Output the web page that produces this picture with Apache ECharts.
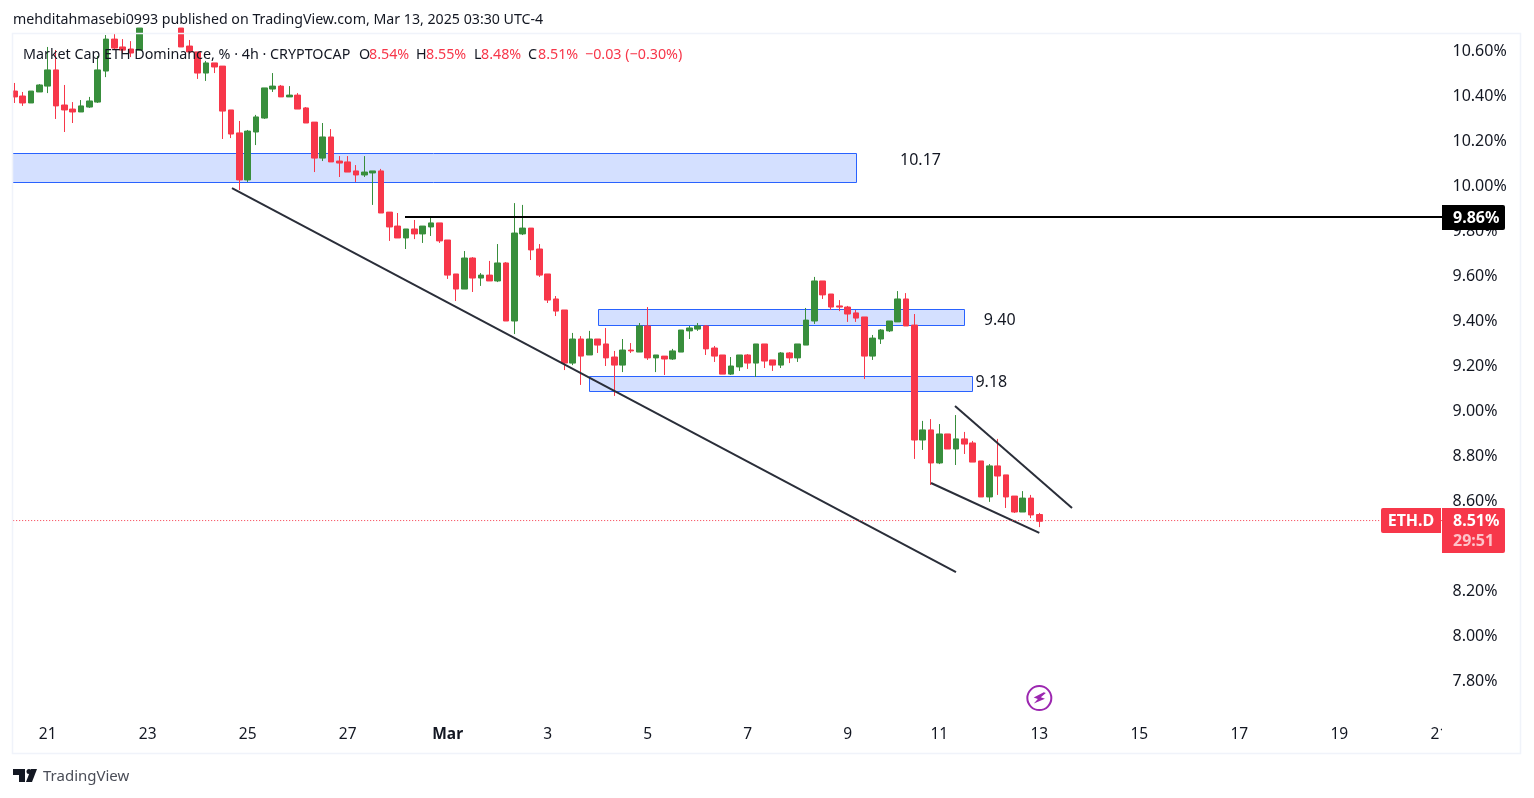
<!DOCTYPE html>
<html>
<head>
<meta charset="utf-8">
<title>ETH.D</title>
<script src="https://cdn.jsdelivr.net/npm/echarts@6/dist/echarts.min.js"></script>
<style>
  html, body { margin: 0; padding: 0; background: #fff; }
  #chart { width: 1534px; height: 798px; }
</style>
</head>
<body>
<div id="chart"></div>
<script>
const opens = [
  10.422,10.400,10.369,10.418,10.444,10.516,10.360,10.342,10.329,10.351,10.373,10.511,10.653,10.618,10.609,10.604,
  10.702,10.780,10.800,10.780,10.702,10.622,10.596,10.502,10.547,10.533,10.338,10.236,10.027,10.240,10.302,10.431,
  10.444,10.396,10.404,10.347,10.284,10.124,10.218,10.111,10.107,10.067,10.049,10.058,10.067,9.884,9.822,9.769,
  9.809,9.787,9.818,9.836,9.760,9.609,9.542,9.680,9.591,9.604,9.578,9.658,9.400,9.787,9.813,9.720,
  9.609,9.498,9.449,9.213,9.320,9.249,9.320,9.298,9.240,9.204,9.271,9.262,9.378,9.236,9.244,9.231,
  9.262,9.356,9.364,9.378,9.280,9.249,9.164,9.196,9.249,9.213,9.298,9.227,9.204,9.258,9.236,9.293,
  9.400,9.578,9.520,9.467,9.462,9.436,9.418,9.244,9.320,9.356,9.396,9.498,9.382,8.871,8.916,8.769,
  8.898,8.831,8.876,8.858,8.778,8.618,8.756,8.716,8.622,8.551,8.613,8.540
]
const highs = [
  10.458,10.418,10.422,10.453,10.618,10.604,10.449,10.373,10.382,10.396,10.578,10.671,10.676,10.653,10.644,10.702,
  10.790,10.830,10.840,10.800,10.702,10.649,10.596,10.556,10.547,10.533,10.338,10.289,10.249,10.316,10.436,10.502,
  10.449,10.444,10.413,10.351,10.284,10.280,10.253,10.133,10.133,10.093,10.133,10.067,10.076,9.884,9.880,9.809,
  9.849,9.822,9.862,9.836,9.760,9.609,9.711,9.684,9.613,9.667,9.742,9.662,9.924,9.916,9.813,9.742,
  9.609,9.511,9.449,9.347,9.333,9.356,9.320,9.369,9.267,9.320,9.302,9.391,9.462,9.249,9.244,9.276,
  9.360,9.378,9.391,9.382,9.289,9.249,9.240,9.249,9.253,9.298,9.298,9.227,9.262,9.262,9.298,9.458,
  9.596,9.578,9.520,9.493,9.467,9.449,9.418,9.338,9.364,9.400,9.533,9.524,9.431,8.956,8.964,8.942,
  8.898,8.982,8.907,8.867,8.778,8.764,8.876,8.716,8.622,8.644,8.627,8.547
]
const lows = [
  10.369,10.356,10.369,10.418,10.413,10.298,10.240,10.280,10.329,10.347,10.369,10.484,10.609,10.587,10.573,10.604,
  10.690,10.750,10.770,10.700,10.618,10.596,10.476,10.467,10.502,10.209,10.213,9.982,10.018,10.182,10.298,10.418,
  10.396,10.396,10.342,10.280,10.062,10.111,10.107,10.040,10.062,10.018,10.040,9.916,9.880,9.756,9.769,9.720,
  9.764,9.747,9.778,9.747,9.587,9.489,9.542,9.529,9.556,9.578,9.573,9.400,9.342,9.782,9.671,9.596,
  9.480,9.422,9.182,9.204,9.116,9.249,9.258,9.200,9.067,9.173,9.258,9.262,9.227,9.173,9.160,9.227,
  9.262,9.320,9.356,9.249,9.218,9.164,9.160,9.178,9.187,9.151,9.191,9.178,9.191,9.213,9.218,9.293,
  9.387,9.498,9.449,9.444,9.396,9.396,9.142,9.227,9.298,9.351,9.396,9.378,8.787,8.827,8.671,8.764,
  8.831,8.760,8.809,8.773,8.618,8.596,8.627,8.569,8.547,8.551,8.524,8.484
]
const closes = [
  10.396,10.369,10.422,10.449,10.516,10.356,10.338,10.329,10.356,10.378,10.516,10.653,10.613,10.604,10.591,10.702,
  10.780,10.800,10.780,10.720,10.618,10.596,10.502,10.547,10.529,10.333,10.231,10.027,10.244,10.307,10.436,10.444,
  10.396,10.404,10.342,10.280,10.124,10.218,10.107,10.102,10.062,10.049,10.062,10.067,9.880,9.818,9.769,9.809,
  9.787,9.822,9.836,9.756,9.604,9.542,9.680,9.591,9.604,9.578,9.658,9.400,9.791,9.813,9.716,9.604,
  9.493,9.444,9.213,9.320,9.244,9.320,9.293,9.236,9.204,9.271,9.267,9.378,9.236,9.249,9.231,9.267,
  9.360,9.369,9.378,9.276,9.244,9.164,9.200,9.249,9.213,9.298,9.222,9.204,9.258,9.236,9.298,9.404,
  9.578,9.516,9.462,9.462,9.431,9.413,9.244,9.324,9.360,9.400,9.498,9.378,8.871,8.916,8.769,8.898,
  8.831,8.876,8.853,8.773,8.618,8.756,8.711,8.618,8.551,8.613,8.538,8.510
]

// day labels and the bar they sit under (the 9 to 11 gap is one bar short)
const dayLabels = ['21','23','25','27','Mar','3','5','7','9','11','13','15','17','19','21']
const dayBars = [4,16,28,40,52,64,76,88,100,111,123,135,147,159,171]
const barSlots = 172

const priceTicks = { min: 7.6, max: 10.6756, step: 0.2 }

// blue zones: [startBar, endBar, top, bottom]
const zoneStarts = [-0.5, 70.08, 68.96]
const zoneEnds = [101.0, 114.0, 114.98]
const zoneTops = [10.147, 9.452, 9.156]
const zoneBottoms = [10.016, 9.381, 9.089]

const zoneNotes = ['10.17', '9.40', '9.18']
const zoneNoteBars = [108.8, 118.3, 117.3]
const zoneNotePrices = [10.113, 9.402, 9.126]

// trend lines as [bar, price]
const lowerTrend = [[26.12, 9.991], [113.0, 8.284]]
const wedgeLow = [[110.0, 8.680], [123.0, 8.458]]
const wedgeHigh = [[112.88, 9.022], [126.92, 8.569]]
const levelStartBar = 46.88
const levelPrice = 9.862
const lastPrice = 8.513
const lastPriceLabel = '8.51%'
const countdown = '29:51'
const eventMarker = [[123, 7.724]]

const RED = '#f7374a'
const GREEN = '#388e3c'
const INK = '#131722'
const FONT = '"Noto Sans", sans-serif'

const legendBits = [
  { x: 23, text: 'Market Cap ETH Dominance, % · 4h · CRYPTOCAP', fill: INK },
  { x: 359, text: 'O', fill: INK }, { x: 369, text: '8.54%', fill: RED },
  { x: 416, text: 'H', fill: INK }, { x: 426, text: '8.55%', fill: RED },
  { x: 474, text: 'L', fill: INK }, { x: 481, text: '8.48%', fill: RED },
  { x: 528, text: 'C', fill: INK }, { x: 538, text: '8.51%', fill: RED },
  { x: 585, text: '−0.03 (−0.30%)', fill: RED }
]

const categories = Array.from({ length: barSlots }, (_, i) => {
  const at = dayBars.indexOf(i)
  return at < 0 ? '' : dayLabels[at]
})

const chart = echarts.init(document.getElementById('chart'))

function renderZone(params, api) {
  const a = api.coord([api.value(0), api.value(2)])
  const b = api.coord([api.value(1), api.value(3)])
  const x = Math.round(a[0]) + 0.5
  const y = Math.round(a[1]) + 0.5
  return {
    type: 'rect',
    shape: { x, y, width: Math.round(b[0] - a[0]), height: Math.round(b[1] - a[1]) },
    style: { fill: 'rgba(41,98,255,0.2)', stroke: '#2962ff', lineWidth: 1 }
  }
}

function tagText(x, y, text, fill, weight, align) {
  return {
    type: 'text',
    style: { x, y, text, fill, font: `${weight} 16px ${FONT}`, align: align || 'left', verticalAlign: 'middle' }
  }
}

function renderTags(params, api) {
  const levelY = api.coord([0, levelPrice])[1]
  const lastY = api.coord([0, lastPrice])[1]
  return {
    type: 'group',
    children: [
      { type: 'rect', shape: { x: 1442, y: levelY - 12, width: 63, height: 25, r: [0, 2, 2, 0] }, style: { fill: '#000' } },
      tagText(1453, levelY + 1.5, levelPrice.toFixed(2) + '%', '#fff', 'bold'),
      { type: 'rect', shape: { x: 1381, y: lastY - 12.5, width: 60, height: 25, r: [2, 0, 0, 2] }, style: { fill: RED } },
      tagText(1411, lastY + 1, 'ETH.D', '#fff', 'bold', 'center'),
      { type: 'rect', shape: { x: 1442, y: lastY - 12.5, width: 63, height: 45, r: [0, 2, 2, 0] }, style: { fill: RED } },
      tagText(1453, lastY + 1, lastPriceLabel, '#fff', 'bold'),
      tagText(1453, lastY + 21, countdown, '#fdc3c9', 'bold')
    ]
  }
}

function trendSeries(data, color, width, type) {
  return {
    type: 'line',
    xAxisIndex: 1,
    data,
    symbol: 'none',
    silent: true,
    z: 5,
    lineStyle: { color, width, type: type || 'solid' }
  }
}

chart.setOption({
  animation: false,
  backgroundColor: '#fff',
  grid: { left: 10.17, top: 34, width: 1433.33, height: 692 },
  xAxis: [
    {
      type: 'category',
      data: categories,
      axisLine: { show: false },
      axisTick: { show: false },
      splitLine: { show: false },
      axisLabel: {
        interval: 0,
        margin: 1,
        fontSize: 15.5,
        fontFamily: FONT,
        color: INK,
        formatter: v => v === 'Mar' ? '{b|Mar}' : v,
        rich: { b: { fontWeight: 'bold', fontSize: 15.5, fontFamily: FONT, color: INK } }
      }
    },
    { type: 'value', show: false, min: -0.5, max: barSlots - 0.5, splitLine: { show: false } }
  ],
  yAxis: {
    type: 'value',
    position: 'right',
    min: priceTicks.min,
    max: priceTicks.max,
    interval: priceTicks.step,
    axisLine: { show: false },
    axisTick: { show: false },
    splitLine: { show: false },
    axisLabel: {
      margin: 9,
      padding: [2, 0, 0, 0],
      fontSize: 16,
      fontFamily: FONT,
      color: INK,
      showMinLabel: false,
      showMaxLabel: false,
      formatter: v => v.toFixed(2) + '%'
    }
  },
  series: [
    {
      type: 'custom',
      xAxisIndex: 1,
      z: 1,
      silent: true,
      encode: { x: [0, 1], y: [2, 3] },
      data: zoneStarts.map((s, i) => [s, zoneEnds[i], zoneTops[i], zoneBottoms[i]]),
      renderItem: renderZone
    },
    {
      type: 'candlestick',
      z: 3,
      barWidth: 6,
      data: opens.map((o, i) => [o, closes[i], lows[i], highs[i]]),
      itemStyle: { color: GREEN, color0: RED, borderColor: GREEN, borderColor0: RED, borderWidth: 1 }
    },
    trendSeries(lowerTrend, '#2a2e39', 2),
    trendSeries(wedgeLow, '#2a2e39', 2),
    trendSeries(wedgeHigh, '#2a2e39', 2),
    trendSeries([[levelStartBar, levelPrice], [barSlots - 0.5, levelPrice]], '#000', 2),
    trendSeries([[-0.5, lastPrice], [barSlots - 0.5, lastPrice]], RED, 1, [1, 2]),
    {
      type: 'scatter',
      xAxisIndex: 1,
      silent: true,
      z: 5,
      symbolSize: 1,
      itemStyle: { color: 'transparent', opacity: 1 },
      data: zoneNotes.map((n, i) => ({ name: n, value: [zoneNoteBars[i], zoneNotePrices[i]] })),
      label: {
        show: true,
        position: [0, 0],
        align: 'center',
        verticalAlign: 'middle',
        formatter: '{b}',
        fontSize: 16,
        fontFamily: FONT,
        color: INK
      }
    },
    {
      type: 'scatter',
      xAxisIndex: 1,
      silent: true,
      z: 5,
      symbol: 'circle',
      symbolSize: 24,
      itemStyle: { color: '#fff', borderColor: '#9c27b0', borderWidth: 2, opacity: 1 },
      data: eventMarker
    },
    {
      type: 'scatter',
      xAxisIndex: 1,
      silent: true,
      z: 6,
      symbol: 'path://M9 0 L2 9 L6 9 L4 15 L12 6 L8 6 L11 0 Z',
      symbolSize: [11, 14],
      symbolRotate: -20,
      itemStyle: { color: '#9c27b0', opacity: 1 },
      data: eventMarker
    },
    {
      type: 'custom',
      xAxisIndex: 1,
      z: 10,
      silent: true,
      data: [[0, lastPrice]],
      renderItem: renderTags
    }
  ],
  graphic: [
    { type: 'rect', z: 50, silent: true, shape: { x: 0, y: 30, width: 12.5, height: 730 }, style: { fill: '#fff' } },
    { type: 'rect', z: 50, silent: true, shape: { x: 1442, y: 726, width: 10, height: 22 }, style: { fill: '#fff' } },
    { type: 'rect', z: 51, silent: true, shape: { x: 12.5, y: 33.5, width: 1508, height: 720 }, style: { fill: 'none', stroke: '#f0f3fa', lineWidth: 1.5 } },
    {
      type: 'text', z: 52, silent: true, x: 13, y: 20,
      style: { text: 'mehditahmasebi0993 published on TradingView.com, Mar 13, 2025 03:30 UTC-4', fill: INK, font: `14.2px ${FONT}`, verticalAlign: 'middle' }
    },
    ...legendBits.map(b => ({
      type: 'text', z: 52, silent: true, x: b.x, y: 55,
      style: { text: b.text, fill: b.fill, font: `14.3px ${FONT}`, verticalAlign: 'middle' }
    })),
    { type: 'polygon', z: 52, silent: true, shape: { points: [[13, 769], [25, 769], [25, 782], [19, 782], [19, 775], [13, 775]] }, style: { fill: '#131722' } },
    { type: 'polygon', z: 52, silent: true, shape: { points: [[31, 769], [37, 769], [32, 782], [26, 782]] }, style: { fill: '#131722' } },
    { type: 'circle', z: 52, silent: true, shape: { cx: 29, cy: 771.5, r: 2.5 }, style: { fill: '#131722' } },
    {
      type: 'text', z: 52, silent: true, x: 43, y: 777,
      style: { text: 'TradingView', fill: '#4a4d57', font: `15px ${FONT}`, verticalAlign: 'middle' }
    }
  ]
})
</script>
</body>
</html>
